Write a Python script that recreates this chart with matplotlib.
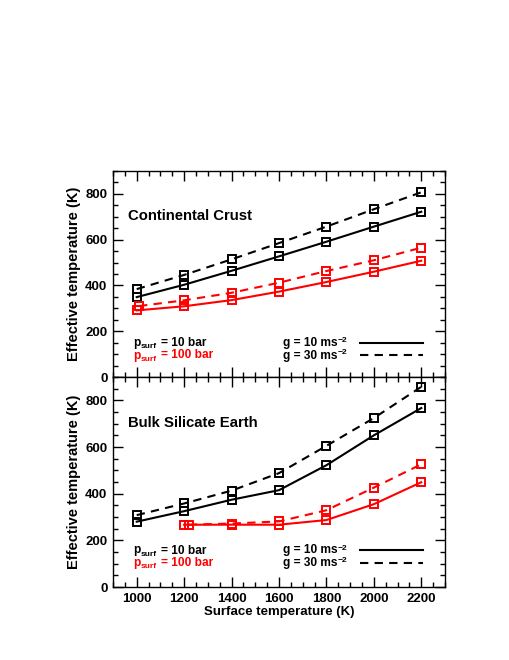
import matplotlib
matplotlib.use("Agg")
import matplotlib.pyplot as plt
import matplotlib.transforms as mtransforms
from matplotlib.ticker import MultipleLocator

plt.rcParams['font.family'] = ['Liberation Sans', 'DejaVu Sans']
plt.rcParams['font.weight'] = 'bold'

# ---- data ----
t_surf = [1000, 1200, 1400, 1600, 1800, 2000, 2200]

# Continental Crust
cc_10bar_g10 = [349, 403, 464, 527, 591, 657, 722]
cc_10bar_g30 = [384, 446, 514, 585, 657, 733, 807]
cc_100bar_g10 = [291, 309, 336, 373, 415, 460, 508]
cc_100bar_g30_x = [1010, 1200, 1400, 1600, 1800, 2000, 2200]
cc_100bar_g30 = [310, 335, 368, 412, 463, 510, 565]

# Bulk Silicate Earth
bse_10bar_g10 = [280, 325, 374, 415, 522, 650, 767]
bse_10bar_g30 = [308, 358, 413, 488, 605, 724, 858]
bse_100bar_x_g10 = [1200, 1400, 1600, 1800, 2000, 2200]
bse_100bar_g10 = [267, 267, 267, 287, 355, 449]
bse_100bar_x_g30 = [1220, 1400, 1600, 1800, 2000, 2200]
bse_100bar_g30 = [267, 272, 281, 329, 426, 526]

panel_titles = ["Continental Crust", "Bulk Silicate Earth"]
x_ticks = [1000, 1200, 1400, 1600, 1800, 2000, 2200]
y_ticks = [0, 200, 400, 600, 800]

RED = '#ff0000'
DASH = (0, (4, 3))

fig = plt.figure(figsize=(5.1, 6.6), dpi=100)
ax1 = fig.add_axes([113/510, 1-377/660, 332/510, 206/660])
ax2 = fig.add_axes([113/510, 1-587/660, 332/510, 210/660])
renderer = fig.canvas.get_renderer()


def runs(ax, xf, ypx, parts, color):
    """Draw consecutive text pieces; parts = (text, size, dy_px, gap_px)."""
    dx = 0.0
    for text, size, dy, gap in parts:
        dx += gap
        tr = mtransforms.offset_copy(ax.transAxes, fig=fig, x=dx, y=ypx + dy, units='dots')
        t = ax.text(xf, 0, text, transform=tr, fontsize=size, fontweight='bold',
                    color=color, va='baseline', ha='left')
        dx += t.get_window_extent(renderer=renderer).width


def draw(ax, series, title, title_y, base1, base2):
    for x, y, c, ls in series:
        ax.plot(x, y, color=c, linestyle=ls, lw=1.5, marker='s', ms=6,
                mfc='none', mec=c, mew=1.4)
    ax.set_xlim(900, 2300)
    ax.set_ylim(0, 900)
    ax.set_xticks(x_ticks)
    ax.set_yticks(y_ticks)
    ax.xaxis.set_minor_locator(MultipleLocator(50))
    ax.yaxis.set_minor_locator(MultipleLocator(50))
    ax.tick_params(which='both', direction='in', top=True, right=True,
                   labelsize=9.5, width=1, pad=4)
    ax.tick_params(which='major', length=7)
    ax.tick_params(which='minor', length=3.5)
    for lab in ax.get_yticklabels() + ax.get_xticklabels():
        lab.set_fontweight('bold')
    for s in ax.spines.values():
        s.set_linewidth(1)
    ax.set_ylabel('Effective temperature (K)', fontsize=10.5, fontweight='bold', labelpad=3)
    ax.text(0.045, title_y, title, transform=ax.transAxes,
            fontsize=10.7, fontweight='bold', va='center', ha='left')
    # legend-like annotations
    fs, fss = 8.6, 6.0
    runs(ax, 0.061, base1, [('p', fs, 0, 0), ('surf', fss, -2.5, 0.5), ('= 10 bar', fs, 0, 3.5)], 'black')
    runs(ax, 0.061, base2, [('p', fs, 0, 0), ('surf', fss, -2.5, 0.5), ('= 100 bar', fs, 0, 3.5)], RED)
    runs(ax, 0.511, base1, [('g = 10 ms', fs, 0, 0), ('\u22122', fss, 4.0, 0.5)], 'black')
    runs(ax, 0.511, base2, [('g = 30 ms', fs, 0, 0), ('\u22122', fss, 4.0, 0.5)], 'black')
    h = ax.get_position().height * 660
    ax.plot([0.744, 0.934], [(base1 + 3.5) / h] * 2, transform=ax.transAxes, color='black', lw=1.5)
    ax.plot([0.744, 0.934], [(base2 + 3.5) / h] * 2, transform=ax.transAxes, color='black', lw=1.5,
            linestyle=DASH)

draw(ax1, [
    (t_surf, cc_10bar_g10, 'black', '-'),
    (t_surf, cc_10bar_g30, 'black', DASH),
    (t_surf, cc_100bar_g10, RED, '-'),
    (cc_100bar_g30_x, cc_100bar_g30, RED, DASH),
], panel_titles[0], 0.783, 31.0, 18.5)
ax1.tick_params(labelbottom=False)

draw(ax2, [
    (t_surf, bse_10bar_g10, 'black', '-'),
    (t_surf, bse_10bar_g30, 'black', DASH),
    (bse_100bar_x_g10, bse_100bar_g10, RED, '-'),
    (bse_100bar_x_g30, bse_100bar_g30, RED, DASH),
], panel_titles[1], 0.78, 33.5, 21.0)
ax2.set_xlabel('Surface temperature (K)', fontsize=9.5, fontweight='bold', labelpad=1)

fig.savefig('out.png', dpi=100)
